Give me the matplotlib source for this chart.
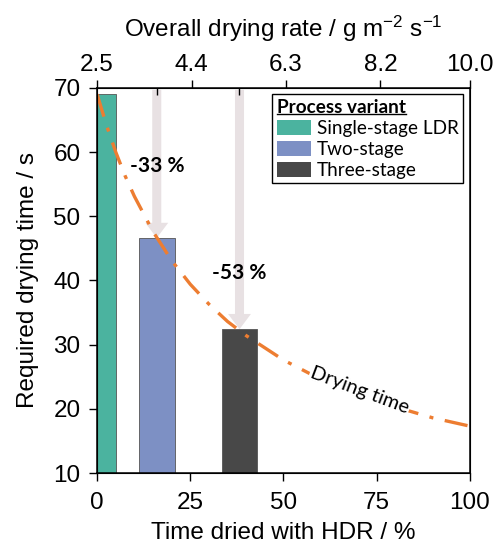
import numpy as np
import matplotlib
matplotlib.use('Agg')
import matplotlib.pyplot as plt
from matplotlib.patches import Patch
from matplotlib.lines import Line2D

# data
variants = ["Single-stage LDR", "Two-stage", "Three-stage"]
bar_left = [0.0, 11.2, 33.4]
bar_width = [5.0, 9.6, 9.6]
bar_time = [69.0, 46.6, 32.4]
bar_colors = ["#4bb39f", "#7d90c4", "#484848"]
reductions = ["-33 %", "-53 %"]
reduction_y = [57.8, 41.2]

hdr_pct = [0, 2.5, 5, 7.5, 10, 15, 20, 25, 30, 35, 40, 50, 60, 70, 80, 90, 100]
dry_time = [69.0, 64.2, 60.0, 56.3, 53.1, 47.6, 43.1, 39.4, 36.3, 33.6, 31.4,
            27.6, 24.6, 22.3, 20.3, 18.6, 17.3]

rate_ticks = [2.5, 4.4, 6.3, 8.2, 10.0]
rate_lim = (2.5, 10.0)

plt.rcParams['mathtext.default'] = 'regular'
sans = "Liberation Sans"
cal = "Lato"

fig = plt.figure(figsize=(4.93, 5.44), dpi=100)
ax = fig.add_axes([0.197, 0.1305, 0.756, 0.708])

# arrows from top down to bar tops
for i in (1, 2):
    xc = bar_left[i] + bar_width[i] / 2
    ax.annotate("", xy=(xc, bar_time[i]), xytext=(xc, 69.7),
                arrowprops=dict(arrowstyle="simple,tail_width=0.65,head_width=1.65,head_length=1.1",
                                mutation_scale=10, color="#e8e1e3", lw=0,
                                shrinkA=0, shrinkB=0), zorder=1)

for i in range(3):
    ax.bar(bar_left[i], bar_time[i], width=bar_width[i], align="edge", bottom=0,
           color=bar_colors[i], edgecolor="#555555", linewidth=0.6, zorder=2)

ax.plot(np.array(hdr_pct), np.array(dry_time), color="#ed7d31", lw=2.4,
        dashes=(7, 3.5, 1.2, 3.5), zorder=3)

# reduction labels
for i, txt, yl in zip((1, 2), reductions, reduction_y):
    xc = bar_left[i] + bar_width[i] / 2
    ax.text(xc, yl, txt, ha="center", va="center", fontsize=15,
            fontweight="bold", family=cal, zorder=4)

ax.text(70.5, 22.9, "Drying time", rotation=-20.5, ha="center", va="center",
        fontsize=14.5, family=cal, rotation_mode="anchor",
        bbox=dict(boxstyle="square,pad=0.05", fc="white", ec="none"), zorder=4)

ax.set_xlim(0, 100)
ax.set_ylim(10, 70)
ax.set_xticks([0, 25, 50, 75, 100])
ax.set_yticks(range(10, 71, 10))
centers = [bar_left[i] + bar_width[i] / 2 for i in (1, 2)]
ax.set_xticks(centers, minor=True)
ax.tick_params(axis="x", which="minor", direction="in", length=5, width=1)
ax.tick_params(axis="both", which="major", direction="out", length=6, width=1,
               labelsize=17.5)
ax.tick_params(axis="x", which="major", pad=7.5)
ax.tick_params(axis="y", which="major", pad=6)
ax.set_xlabel("Time dried with HDR / %", fontsize=17.5, family=sans, labelpad=6)
ax.set_ylabel("Required drying time / s", fontsize=17.5, family=sans, labelpad=10)
for lab in ax.get_xticklabels() + ax.get_yticklabels():
    lab.set_family(sans)
for sp in ax.spines.values():
    sp.set_linewidth(1.1)

ax2 = ax.twiny()
ax2.set_xlim(*rate_lim)
ax2.set_xticks(rate_ticks)
ax2.set_xticklabels([f"{v:.1f}" for v in rate_ticks], family=sans)
# same positions as the bar centres, mapped to the rate axis
to_rate = lambda p: rate_lim[0] + (rate_lim[1] - rate_lim[0]) * p / 100
ax2.set_xticks([to_rate(c) for c in centers], minor=True)
ax2.tick_params(axis="x", which="minor", direction="in", length=5, width=1)
ax2.tick_params(axis="x", which="major", direction="out", length=6, width=1,
                labelsize=17.5, pad=2.5)
ax2.set_xlabel("Overall drying rate / g m$^{-2}$ s$^{-1}$", fontsize=17.5,
               family=sans, labelpad=12)

handles = [Patch(facecolor=c, edgecolor="none") for c in bar_colors]
leg = ax.legend(handles, variants, loc="upper right", title="Process variant",
                fancybox=False, edgecolor="black", framealpha=1,
                prop=dict(family=cal, size=13.6), handlelength=1.8, handleheight=0.85,
                handletextpad=0.3, labelspacing=0.2, borderpad=0.25,
                borderaxespad=0.35)
leg.get_frame().set_linewidth(1.0)
leg.get_title().set_fontweight("bold")
leg.get_title().set_family(cal)
leg.get_title().set_fontsize(13.6)
leg._legend_box.align = "left"

fig.canvas.draw()
bb = leg.get_title().get_window_extent()
inv = fig.transFigure.inverted()
(x0, y0), (x1, _) = inv.transform([(bb.x0, bb.y0 + 2), (bb.x1, bb.y0 + 2)])
fig.add_artist(Line2D([x0, x1], [y0, y0], color="black", lw=1.0))

fig.savefig("out.png", dpi=100)
